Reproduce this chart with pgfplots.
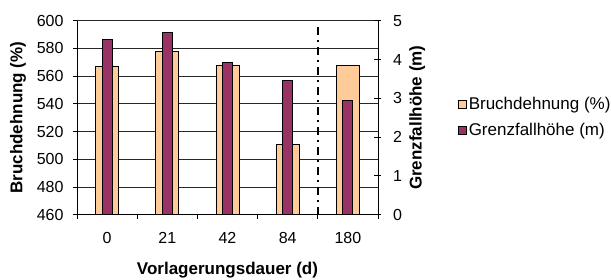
\documentclass[border=0pt]{standalone}
\usepackage{fontspec}
\setmainfont{Liberation Sans}
\usepackage{pgfplots}
\pgfplotsset{compat=1.18}
\definecolor{bdorange}{HTML}{FFCC99}
\definecolor{gfpurple}{HTML}{993366}
\pgfplotsset{
  every axis/.append style={
    /pgf/number format/assume math mode=true,
    tick label style={font=\fontsize{16}{19}\selectfont},
    label style={font=\fontsize{17}{20}\selectfont\bfseries},
  },
}
\begin{document}
\begin{tikzpicture}[x=1pt,y=1pt]
\useasboundingbox (0,0) rectangle (611,280);
\begin{axis}[
  at={(77pt,65.3pt)}, anchor=south west,
  scale only axis, width=301pt, height=194pt,
  xmin=-0.5, xmax=4.5, ymin=460, ymax=600,
  ytick={460,480,...,600},
  axis x line*=bottom, axis y line*=left,
  axis line style={black, line width=0.8pt},
  ymajorgrids, grid style={black!85, line width=0.7pt},
  tick align=outside, major tick length=4pt,
  tick style={black, line width=0.8pt},
  xtick={-0.5,0.5,...,4.5}, xticklabels={,,,,,},
  extra x ticks={0,1,2,3,4},
  extra x tick labels={0,21,42,84,180},
  extra x tick style={major tick length=0pt, xticklabel style={yshift=-14pt}},
  yticklabel style={xshift=-6pt},
  xlabel={Vorlagerungsdauer (d)},
  xlabel style={at={(axis description cs:0.5,-0.285)}, anchor=center},
  ylabel={Bruchdehnung (\%)},
  ylabel style={at={(axis description cs:-0.196,0.5)}, anchor=center, rotate=0},
  ybar, bar width=23pt, bar shift=0pt,
]
\addplot[fill=bdorange, draw=black, line width=0.8pt] coordinates {
  (0,567) (1,578) (2,568) (3,511) (4,568)
};
\end{axis}
\begin{axis}[
  at={(77pt,65.3pt)}, anchor=south west,
  scale only axis, width=301pt, height=194pt,
  xmin=-0.5, xmax=4.5, ymin=0, ymax=5,
  ytick={0,1,...,5},
  axis x line=none, axis y line*=right,
  axis line style={black, line width=0.8pt},
  tick align=center, major tick length=7pt,
  tick style={black, line width=0.8pt},
  yticklabel style={xshift=8pt},
  ylabel={Grenzfallhöhe (m)},
  ylabel style={at={(axis description cs:1.13,0.5)}, anchor=center, rotate=0},
  ybar, bar width=10pt, bar shift=0pt,
  legend image code/.code={\draw[#1, draw=black, line width=0.8pt] (-6pt,-4pt) rectangle (2pt,4pt);},
  legend style={draw=none, fill=none, font=\fontsize{17}{20}\selectfont,
    at={(axis description cs:1.265,0.615)}, anchor=north west,
    row sep=8pt, inner sep=0pt},
  legend cell align=left,
]
\addlegendimage{fill=bdorange}
\addlegendentry{Bruchdehnung (\%)}
\addplot[fill=gfpurple, draw=black, line width=0.8pt] coordinates {
  (0,4.52) (1,4.69) (2,3.93) (3,3.46) (4,2.95)
};
\addlegendentry{Grenzfallhöhe (m)}
\addplot[sharp plot, black, line width=2pt, dash pattern=on 8pt off 5pt on 2pt off 5pt, forget plot] coordinates {
  (3.5,0) (3.5,4.85)
};
\end{axis}
\end{tikzpicture}
\end{document}
